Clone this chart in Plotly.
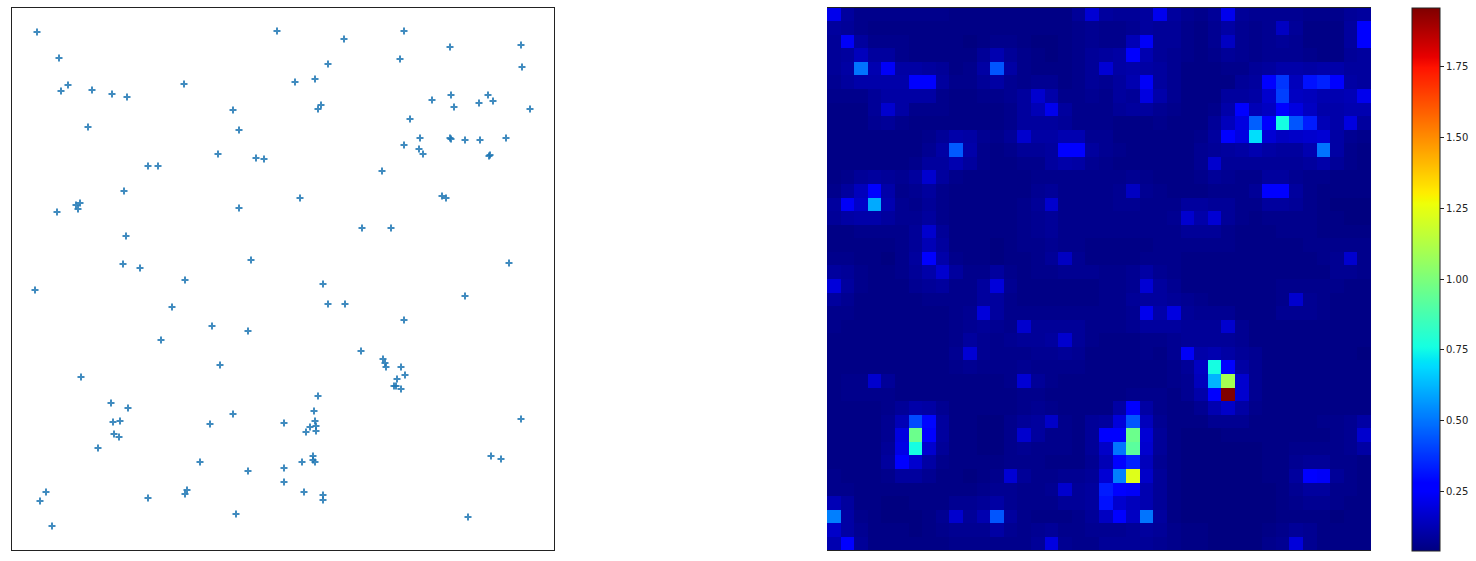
import numpy as np
import plotly.graph_objects as go

# Scatter read-off, on each axis's own scale
point_x = [37,59,68,61,92,112,127,184,277,233,239,88,218,256,264,148,158,124,239,57,80,76,78,126,123,140,251,185,
           404,344,450,521,522,400,328,295,315,321,318,432,451,454,479,488,493,530,410,420,404,419,423,450,451,465,480,506,490,489,382,300,442,446,362,391,509,
           35,172,212,248,161,220,81,111,128,113,120,114,119,98,233,210,200,248,46,40,187,185,148,236,52,
           323,328,345,465,404,361,383,385,386,401,405,397,394,396,401,318,314,284,315,316,310,316,306,521,313,313,315,302,284,284,304,323,323,491,501,468]
point_y = [32,58,85,91,90,94,97,84,31,110,130,127,154,158,159,166,166,191,208,212,203,205,209,236,264,268,260,280,
           31,39,47,45,67,59,64,82,79,105,109,100,95,107,103,95,101,109,119,138,145,149,154,138,139,140,140,138,155,156,171,198,196,198,228,228,263,
           290,307,326,331,340,365,377,403,408,422,421,434,437,448,414,424,462,471,492,501,490,494,498,514,526,
           284,304,304,296,320,351,359,363,367,367,375,379,386,386,389,396,411,423,421,426,427,431,432,419,456,460,462,462,468,482,492,495,500,456,459,517]

# Density grid, hundredths, top row first (40 x 40)
density = [
[22,9,6,6,6,6,6,6,6,5,5,5,5,5,5,5,5,5,8,18,9,8,8,9,22,9,7,6,8,22,8,7,7,7,7,6,6,6,8,9],
[9,8,6,5,5,5,5,5,5,5,5,5,5,5,5,5,5,5,6,7,6,6,7,9,8,8,6,5,7,10,7,6,7,15,8,5,5,5,9,27],
[8,24,9,6,6,6,5,5,5,5,4,5,6,6,5,4,4,5,6,7,6,6,13,24,8,8,6,5,7,15,7,6,7,8,7,5,5,5,9,27],
[8,9,14,9,9,6,5,5,5,5,5,8,12,8,6,5,4,5,6,8,9,10,25,12,8,7,6,5,6,8,7,6,7,7,7,6,5,5,8,9],
[8,10,50,12,24,10,10,9,8,5,6,10,44,10,6,5,5,5,6,8,18,10,11,10,9,7,5,5,5,6,6,8,9,11,11,10,11,11,9,9],
[7,9,11,11,11,11,25,25,9,6,6,8,10,7,6,7,7,5,6,8,7,9,12,24,9,7,5,5,5,5,8,9,27,38,14,31,34,27,10,9],
[6,6,6,8,10,10,10,10,6,5,5,6,6,7,9,17,11,6,6,7,6,9,8,20,11,7,5,5,5,9,9,10,17,40,15,14,12,12,13,22],
[5,5,5,8,17,10,6,6,6,5,5,5,5,6,9,13,22,9,6,6,6,8,9,9,7,6,5,5,6,11,27,13,15,27,20,15,11,11,12,12],
[5,5,5,7,8,6,5,5,5,5,5,5,5,6,9,9,9,8,6,6,6,5,5,5,6,5,5,5,8,14,20,46,26,76,44,33,13,11,20,9],
[5,5,5,5,5,5,5,6,8,11,10,7,6,8,17,10,10,12,12,7,7,5,5,5,5,5,5,6,9,26,20,70,18,15,16,17,18,10,7,6],
[5,5,5,5,5,5,5,7,10,45,11,6,5,6,8,8,9,26,26,9,7,6,5,5,5,5,5,7,8,9,10,12,10,9,9,12,50,10,6,5],
[5,5,5,5,5,5,6,9,9,12,9,6,5,5,6,6,9,11,10,7,6,5,5,5,5,5,5,7,17,8,8,8,8,8,8,9,11,8,6,5],
[5,6,8,9,8,7,9,17,9,6,5,5,5,5,5,6,6,6,6,6,6,6,7,6,5,5,5,6,8,7,6,6,9,9,7,6,6,5,5,5],
[6,9,14,27,11,6,7,9,6,5,5,5,5,5,5,7,8,6,6,6,6,7,15,7,6,5,5,5,6,6,6,8,27,27,9,6,5,5,5,5],
[9,24,16,60,12,7,6,8,6,5,5,5,5,5,6,8,17,6,6,6,6,7,7,6,6,6,9,9,8,8,6,6,9,9,8,6,5,4,4,4],
[8,10,11,11,9,7,7,9,6,5,5,5,5,5,6,7,8,6,6,6,6,6,6,6,6,7,17,11,18,8,6,5,6,6,6,6,5,5,4,4],
[5,5,6,6,6,6,8,17,8,5,5,5,5,5,6,7,8,6,6,6,6,6,6,6,6,6,8,8,8,6,5,5,5,6,6,6,5,5,5,5],
[5,5,5,5,5,6,8,13,9,5,5,5,4,5,6,6,7,6,6,5,5,5,5,5,6,6,6,6,6,6,5,5,5,5,5,6,6,6,6,6],
[6,6,5,5,4,6,9,25,11,6,5,5,4,5,5,6,8,15,7,5,5,5,5,6,6,6,5,5,5,5,5,5,5,5,5,5,6,7,17,6],
[9,8,6,5,5,6,8,11,17,9,6,6,9,6,5,6,6,7,7,7,6,6,7,10,7,6,5,5,5,5,5,5,5,5,5,5,5,7,7,6],
[19,9,6,5,5,5,7,8,9,6,6,9,19,7,5,5,5,5,5,5,6,6,7,18,9,7,5,5,5,5,5,5,5,6,6,6,6,6,5,5],
[9,7,5,5,5,5,5,6,6,6,6,9,9,6,5,5,5,5,5,5,6,6,8,9,9,8,7,6,5,5,5,5,5,6,17,7,6,5,5,5],
[6,6,5,5,5,5,5,5,5,6,7,19,9,6,6,6,6,6,6,6,6,6,7,22,11,20,8,7,7,7,5,5,5,7,7,7,6,5,5,5],
[6,5,5,5,5,5,5,5,5,6,7,8,7,6,17,8,8,8,8,6,6,6,7,9,9,9,8,8,8,17,7,5,5,5,5,5,5,5,5,5],
[5,5,5,5,5,5,5,5,5,6,9,7,6,7,8,8,9,17,8,6,5,5,5,6,6,7,8,8,8,8,7,5,5,5,5,5,5,5,5,5],
[5,5,5,5,5,5,5,5,5,7,18,7,6,6,6,7,7,8,7,5,5,5,5,6,5,7,24,11,12,10,8,7,5,5,5,5,5,5,5,4],
[5,5,5,5,5,5,5,5,5,6,7,6,6,6,7,6,6,6,6,5,5,5,5,5,5,6,8,15,76,25,10,7,5,5,5,5,5,5,5,5],
[5,6,6,17,8,5,5,5,5,5,5,5,5,6,18,8,6,5,5,5,5,5,5,5,5,6,7,14,62,110,17,7,5,5,5,5,5,5,5,5],
[5,6,6,6,6,5,5,5,5,5,5,5,5,5,6,6,5,5,5,5,5,5,6,6,6,5,7,11,27,196,17,7,5,5,5,5,5,5,5,5],
[5,5,5,5,6,8,11,10,7,5,5,5,5,5,6,7,6,5,5,5,5,10,26,10,6,5,5,7,12,16,10,6,5,5,5,5,5,5,5,5],
[5,5,5,5,7,13,42,29,9,5,5,4,4,6,8,9,16,6,5,8,9,19,44,14,7,5,5,5,7,7,7,5,5,5,5,5,6,6,7,10],
[5,5,5,5,7,20,96,26,9,5,5,4,4,6,17,9,6,6,5,8,27,27,96,18,8,5,4,4,4,5,5,5,5,5,5,5,5,6,7,17],
[5,5,5,5,8,21,76,17,8,5,5,4,4,6,7,6,6,6,5,8,16,50,92,17,8,5,4,4,4,4,4,4,5,5,6,6,6,6,7,10],
[5,5,5,5,9,27,17,10,6,5,5,5,5,6,6,6,5,5,5,7,13,28,34,14,7,5,4,4,4,4,4,4,5,5,7,8,8,6,6,5],
[6,5,5,5,6,9,9,7,5,5,4,5,6,18,8,6,6,7,7,8,18,52,123,16,8,5,4,4,4,4,4,4,5,5,9,27,24,8,6,5],
[6,6,5,5,5,5,5,5,5,5,5,6,7,7,6,6,7,17,8,9,33,27,24,12,8,5,4,4,4,4,4,4,4,5,7,9,9,6,6,5],
[13,9,5,5,4,4,5,5,5,7,7,8,10,7,6,6,6,8,8,9,31,17,14,12,8,5,4,4,4,4,4,4,4,5,6,7,7,6,5,5],
[52,10,6,5,4,4,4,5,7,17,8,12,44,9,6,5,5,5,6,8,15,27,15,50,9,5,4,4,4,4,4,4,4,5,5,5,5,4,5,5],
[16,10,7,5,5,5,4,5,6,7,7,7,10,7,6,7,8,6,6,7,7,7,8,9,8,6,5,5,4,4,4,4,5,6,8,7,5,5,5,5],
[12,26,8,5,5,5,5,5,5,6,6,6,6,6,6,8,20,7,6,6,8,8,8,8,7,6,5,5,4,4,4,4,6,7,19,7,5,5,5,5],
]
colorbar_ticks = [0.25, 0.50, 0.75, 1.00, 1.25, 1.50, 1.75]

z = np.array(density) / 100

# matplotlib "jet"
stops = np.linspace(0, 1, 256)
red = np.interp(stops, [0, .35, .66, .89, 1], [0, 0, 1, 1, .5])
green = np.interp(stops, [0, .125, .375, .64, .91, 1], [0, 0, 1, 1, 0, 0])
blue = np.interp(stops, [0, .11, .34, .65, 1], [.5, 1, 1, 0, 0])
jet = [[float(s), f"rgb({r*255:.0f},{g*255:.0f},{b*255:.0f})"] for s, r, g, b in zip(stops, red, green, blue)]

W, H = 1476, 561
TOP, BOTTOM = 7.5, 550
fig = go.Figure()
fig.add_trace(go.Scatter(
    x=point_x, y=point_y, mode="markers", xaxis="x", yaxis="y",
    marker=dict(symbol="cross-thin", size=5, color="#1f77b4", opacity=0.85,
                line=dict(color="#1f77b4", width=2)),
    hoverinfo="skip", showlegend=False))
fig.add_trace(go.Heatmap(
    z=z, xaxis="x2", yaxis="y2", colorscale=jet, zmin=0.04, zmax=1.96, xgap=0, ygap=0,
    colorbar=dict(
        x=1412 / W, xanchor="left", xpad=0, ypad=0,
        y=1 - (BOTTOM + 0.6) / H, yanchor="bottom", len=(BOTTOM - TOP) / H, lenmode="fraction",
        thickness=28, thicknessmode="pixels",
        tickvals=colorbar_ticks, ticktext=[f"{t:.2f}" for t in colorbar_ticks],
        ticks="outside", ticklen=4, tickwidth=1, tickcolor="#222222",
        tickfont=dict(family="DejaVu Sans", size=10, color="#222222"),
        outlinecolor="#222222", outlinewidth=1),
    hoverinfo="skip"))

frame = dict(showticklabels=False, ticks="", showgrid=False, zeroline=False,
             showline=True, linecolor="#222222", linewidth=1, mirror=True)
fig.update_layout(
    width=W, height=H, margin=dict(l=0, r=0, t=0, b=0),
    paper_bgcolor="white", plot_bgcolor="white",
    xaxis=dict(domain=[11.5 / W, 554 / W], range=[11.5, 554], **frame),
    yaxis=dict(domain=[1 - BOTTOM / H, 1 - TOP / H], range=[BOTTOM, TOP], **frame),
    xaxis2=dict(domain=[827 / W, 1371 / W], range=[-0.5, 39.5], **frame),
    yaxis2=dict(domain=[1 - BOTTOM / H, 1 - TOP / H], range=[39.5, -0.5], **frame),
)
fig.write_html("out.html", config={"displayModeBar": False},
               post_script="document.body.style.margin='0';document.body.style.overflow='hidden';")
